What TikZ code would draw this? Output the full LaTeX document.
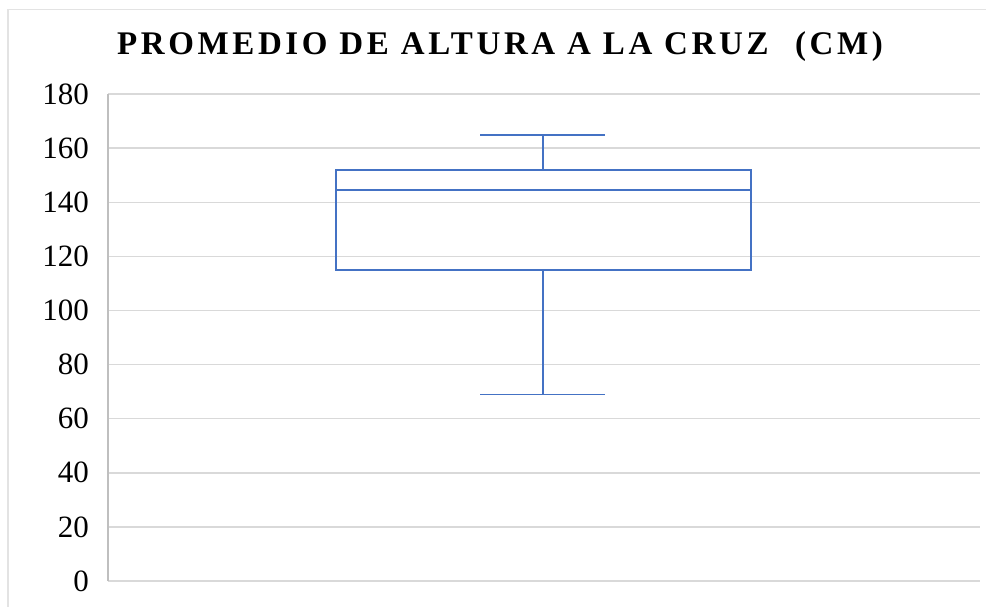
\documentclass[tikz,border=0pt]{standalone}
\usepackage{fontspec}
\setmainfont{Liberation Serif}
\newfontfamily\titlefont[LetterSpace=11]{Liberation Serif}
\definecolor{boxblue}{HTML}{4472C4}
\definecolor{gridgray}{HTML}{D9D9D9}
\definecolor{axisgray}{HTML}{BFBFBF}
\definecolor{framegray}{HTML}{E3E3E3}
\tikzset{
  gridline/.style={gridgray, line width=1.5pt},
  boxline/.style={boxblue, line width=1.6pt},
  ticklabel/.style={anchor=east, inner sep=0pt, font=\fontsize{31}{31}\selectfont}
}
\begin{document}
\begin{tikzpicture}[x=1pt, y=2.705pt]
\pgfmathsetmacro{\w}{872};
\pgfmathsetmacro{\lw}{69};
\pgfmathsetmacro{\qa}{115};
\pgfmathsetmacro{\med}{144.5};
\pgfmathsetmacro{\qc}{152};
\pgfmathsetmacro{\uw}{165};
\useasboundingbox (-108,-9.61) rectangle (878,214.8);
% frame of the chart
\draw[framegray, line width=1.5pt] (-100,-9.61) -- (-100,211.3) -- (878,211.3);
% grid and axis
\foreach \v in {0,20,...,180}{
  \draw[gridline] (0,\v) -- (\w,\v);
  \node[ticklabel] (t\v) at (-19,\v) {\v};
}
\draw[axisgray, line width=2pt] (0,0) -- (0,180);
% title
\node[inner sep=0pt, anchor=base] (title) at (392,194.8)
  {\titlefont\bfseries\fontsize{33}{33}\selectfont PROMEDIO DE ALTURA A LA CRUZ\hspace{0.8em}(CM)};
% box and whiskers
\draw[boxline] (227.7,\qa) rectangle (642.7,\qc);
\draw[boxline] (227.7,\med) -- (642.7,\med);
\draw[boxline] (435,\qc) -- (435,\uw);
\draw[boxline] (435,\qa) -- (435,\lw);
\draw[boxline] (372,\uw) -- (497,\uw);
\draw[boxline] (372,\lw) -- (497,\lw);
\end{tikzpicture}
\end{document}
